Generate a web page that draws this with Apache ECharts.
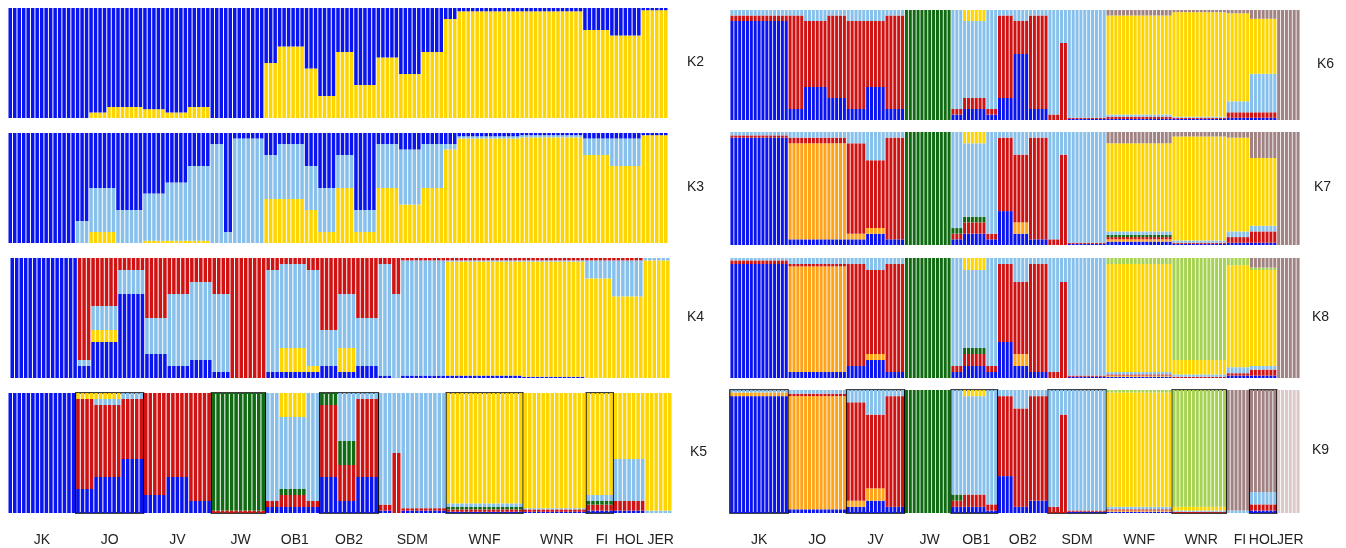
<!DOCTYPE html>
<html><head><meta charset="utf-8">
<script src="https://cdn.jsdelivr.net/npm/echarts@6/dist/echarts.min.js"></script>
<style>html,body{margin:0;padding:0;background:#fff}#c{width:1346px;height:548px}</style>
</head><body><div id="c"></div>
<script>
// populations and individual counts
const pops = ['JK', 'JO', 'JV', 'JW', 'OB1', 'OB2', 'SDM', 'WNF', 'WNR', 'FI', 'HOL', 'JER'];

const C = {
    blue: '#0a14f0', yellow: '#ffd500', lb: '#88c0ec', red: '#d01212', green: '#0f6a12',
    orange: '#ffa41a', brown: '#a08282', lgreen: '#a6d254', pink: '#dcc8c8'
};

// profiles per population: [count, q1, q2, ...]
const K2 = [
    [[15, 1, 0]],
    [[3, 1, 0], [4, 0.95, 0.05], [8, 0.9, 0.1]],
    [[5, 0.92, 0.08], [5, 0.95, 0.05], [5, 0.9, 0.1]],
    [[12, 1, 0]],
    [[3, 0.5, 0.5], [6, 0.35, 0.65], [3, 0.55, 0.45]],
    [[4, 0.8, 0.2], [4, 0.4, 0.6], [5, 0.7, 0.3]],
    [[5, 0.45, 0.55], [5, 0.6, 0.4], [5, 0.4, 0.6]],
    [[3, 0.1, 0.9], [14, 0.03, 0.97]],
    [[14, 0.03, 0.97]],
    [[6, 0.2, 0.8]],
    [[7, 0.25, 0.75]],
    [[6, 0.02, 0.98]]
];
const K3 = [
    [[15, 1, 0, 0]],
    [[3, 0.8, 0.2, 0], [6, 0.5, 0.4, 0.1], [6, 0.7, 0.3, 0]],
    [[5, 0.55, 0.43, 0.02], [5, 0.45, 0.53, 0.02], [5, 0.3, 0.68, 0.02]],
    [[3, 0.1, 0.9, 0], [2, 0.9, 0.1, 0], [7, 0.05, 0.95, 0]],
    [[3, 0.2, 0.4, 0.4], [6, 0.1, 0.5, 0.4], [3, 0.3, 0.4, 0.3]],
    [[4, 0.5, 0.4, 0.1], [4, 0.2, 0.3, 0.5], [5, 0.7, 0.2, 0.1]],
    [[5, 0.1, 0.4, 0.5], [5, 0.15, 0.5, 0.35], [5, 0.1, 0.4, 0.5]],
    [[3, 0.1, 0.05, 0.85], [14, 0.03, 0.02, 0.95]],
    [[14, 0.02, 0.02, 0.96]],
    [[6, 0.05, 0.15, 0.8]],
    [[7, 0.05, 0.25, 0.7]],
    [[6, 0.02, 0, 0.98]]
];
const K4 = [
    [[15, 1, 0, 0, 0]],
    [[3, 0.1, 0.85, 0.05, 0], [6, 0.3, 0.4, 0.2, 0.1], [6, 0.7, 0.1, 0.2, 0]],
    [[5, 0.2, 0.5, 0.3, 0], [5, 0.1, 0.3, 0.6, 0], [5, 0.15, 0.2, 0.65, 0]],
    [[4, 0.05, 0.3, 0.65, 0], [8, 0, 1, 0, 0]],
    [[3, 0.05, 0.1, 0.85, 0], [6, 0.05, 0.05, 0.7, 0.2], [3, 0.05, 0.1, 0.8, 0.05]],
    [[4, 0.1, 0.6, 0.3, 0], [4, 0.05, 0.3, 0.45, 0.2], [5, 0.1, 0.5, 0.4, 0]],
    [[3, 0.02, 0.05, 0.93, 0], [2, 0, 0.3, 0.7, 0], [10, 0.02, 0.02, 0.96, 0]],
    [[17, 0.02, 0.02, 0.01, 0.95]],
    [[14, 0.01, 0.02, 0.01, 0.96]],
    [[6, 0, 0.02, 0.15, 0.83]],
    [[7, 0, 0.02, 0.3, 0.68]],
    [[6, 0, 0, 0.02, 0.98]]
];
const K5 = [
    [[15, 1, 0, 0, 0, 0]],
    [[4, 0.2, 0.75, 0, 0, 0.05], [6, 0.3, 0.6, 0, 0.05, 0.05], [5, 0.45, 0.5, 0, 0.05, 0]],
    [[5, 0.15, 0.85, 0, 0, 0], [5, 0.3, 0.7, 0, 0, 0], [5, 0.1, 0.9, 0, 0, 0]],
    [[12, 0, 0.02, 0.98, 0, 0]],
    [[3, 0.05, 0.05, 0, 0.9, 0], [6, 0.05, 0.1, 0.05, 0.6, 0.2], [3, 0.05, 0.05, 0, 0.9, 0]],
    [[4, 0.3, 0.6, 0.1, 0, 0], [4, 0.1, 0.3, 0.2, 0.4, 0], [5, 0.3, 0.65, 0, 0.05, 0]],
    [[3, 0.02, 0.05, 0, 0.93, 0], [2, 0, 0.5, 0, 0.5, 0], [10, 0.02, 0.02, 0, 0.96, 0]],
    [[17, 0.01, 0.02, 0.02, 0.03, 0.92]],
    [[14, 0.01, 0.02, 0, 0.01, 0.96]],
    [[6, 0.02, 0.05, 0.03, 0.05, 0.85]],
    [[7, 0.02, 0.08, 0, 0.35, 0.55]],
    [[6, 0, 0, 0, 0.02, 0.98]]
];
const K6 = [
    [[15, 0.9, 0.05, 0, 0.05, 0, 0]],
    [[4, 0.1, 0.85, 0, 0.05, 0, 0], [6, 0.3, 0.6, 0, 0.1, 0, 0], [5, 0.2, 0.75, 0, 0.05, 0, 0]],
    [[5, 0.1, 0.8, 0, 0.1, 0, 0], [5, 0.3, 0.6, 0, 0.1, 0, 0], [5, 0.1, 0.85, 0, 0.05, 0, 0]],
    [[12, 0, 0, 1, 0, 0, 0]],
    [[3, 0.05, 0.05, 0, 0.9, 0, 0], [6, 0.1, 0.1, 0, 0.7, 0.1, 0], [3, 0.05, 0.05, 0, 0.9, 0, 0]],
    [[4, 0.2, 0.75, 0, 0.05, 0, 0], [4, 0.6, 0.3, 0, 0.1, 0, 0], [5, 0.1, 0.85, 0, 0.05, 0, 0]],
    [[3, 0, 0.05, 0, 0.95, 0, 0], [2, 0, 0.7, 0, 0.3, 0, 0], [10, 0.01, 0.01, 0, 0.98, 0, 0]],
    [[17, 0.01, 0.02, 0, 0.02, 0.9, 0.05]],
    [[14, 0.01, 0.01, 0, 0.01, 0.95, 0.02]],
    [[6, 0.02, 0.05, 0, 0.1, 0.8, 0.03]],
    [[7, 0.02, 0.05, 0, 0.35, 0.5, 0.08]],
    [[6, 0, 0, 0, 0, 0, 1]]
];
const K7 = [
    [[15, 0.95, 0, 0.02, 0, 0.03, 0, 0]],
    [[15, 0.05, 0.85, 0.05, 0, 0.05, 0, 0]],
    [[5, 0.05, 0.05, 0.8, 0, 0.1, 0, 0], [5, 0.1, 0.05, 0.6, 0, 0.25, 0, 0], [5, 0.05, 0, 0.9, 0, 0.05, 0, 0]],
    [[12, 0, 0, 0, 1, 0, 0, 0]],
    [[3, 0.05, 0, 0.05, 0.05, 0.85, 0, 0], [6, 0.1, 0, 0.1, 0.05, 0.65, 0.1, 0], [3, 0.05, 0, 0.05, 0, 0.9, 0, 0]],
    [[4, 0.3, 0, 0.65, 0, 0.05, 0, 0], [4, 0.1, 0.1, 0.6, 0, 0.2, 0, 0], [5, 0.05, 0, 0.9, 0, 0.05, 0, 0]],
    [[3, 0, 0, 0.05, 0, 0.95, 0, 0], [2, 0, 0, 0.8, 0, 0.2, 0, 0], [10, 0.01, 0, 0.01, 0, 0.98, 0, 0]],
    [[17, 0.03, 0.02, 0.02, 0.02, 0.03, 0.78, 0.1]],
    [[14, 0.01, 0, 0.01, 0, 0.02, 0.92, 0.04]],
    [[6, 0.02, 0, 0.05, 0, 0.05, 0.83, 0.05]],
    [[7, 0.02, 0, 0.1, 0, 0.05, 0.6, 0.23]],
    [[6, 0, 0, 0, 0, 0, 0, 1]]
];
const K8 = [
    [[15, 0.95, 0, 0.03, 0, 0.02, 0, 0, 0]],
    [[15, 0.05, 0.88, 0.02, 0, 0.05, 0, 0, 0]],
    [[5, 0.1, 0, 0.85, 0, 0.05, 0, 0, 0], [5, 0.15, 0.05, 0.7, 0, 0.1, 0, 0, 0], [5, 0.05, 0, 0.9, 0, 0.05, 0, 0, 0]],
    [[12, 0, 0, 0, 1, 0, 0, 0, 0]],
    [[3, 0.05, 0, 0.05, 0, 0.9, 0, 0, 0], [6, 0.1, 0, 0.1, 0.05, 0.65, 0.1, 0, 0], [3, 0.05, 0, 0.05, 0, 0.9, 0, 0, 0]],
    [[4, 0.3, 0, 0.65, 0, 0.05, 0, 0, 0], [4, 0.1, 0.1, 0.6, 0, 0.2, 0, 0, 0], [5, 0.05, 0, 0.9, 0, 0.05, 0, 0, 0]],
    [[3, 0, 0, 0.05, 0, 0.95, 0, 0, 0], [2, 0, 0, 0.8, 0, 0.2, 0, 0, 0], [10, 0.01, 0, 0.01, 0, 0.98, 0, 0, 0]],
    [[17, 0.01, 0.01, 0.01, 0, 0.02, 0.9, 0.05, 0]],
    [[14, 0, 0, 0.01, 0, 0.02, 0.12, 0.85, 0]],
    [[6, 0.02, 0, 0.02, 0, 0.05, 0.85, 0.06, 0]],
    [[7, 0.02, 0, 0.05, 0, 0.03, 0.8, 0.02, 0.08]],
    [[6, 0, 0, 0, 0, 0, 0, 0, 1]]
];
const K9 = [
    [[15, 0.95, 0.03, 0, 0, 0.02, 0, 0, 0, 0]],
    [[15, 0.03, 0.92, 0.02, 0, 0.03, 0, 0, 0, 0]],
    [[5, 0.05, 0.05, 0.8, 0, 0.1, 0, 0, 0, 0], [5, 0.1, 0.1, 0.6, 0, 0.2, 0, 0, 0, 0], [5, 0.05, 0, 0.9, 0, 0.05, 0, 0, 0, 0]],
    [[12, 0, 0, 0, 1, 0, 0, 0, 0, 0]],
    [[3, 0.05, 0, 0.05, 0.05, 0.85, 0, 0, 0, 0], [6, 0.05, 0, 0.1, 0, 0.8, 0.05, 0, 0, 0], [3, 0.02, 0, 0.05, 0, 0.93, 0, 0, 0, 0]],
    [[4, 0.3, 0, 0.65, 0, 0.05, 0, 0, 0, 0], [4, 0.05, 0, 0.8, 0, 0.15, 0, 0, 0, 0], [5, 0.1, 0, 0.85, 0, 0.05, 0, 0, 0, 0]],
    [[3, 0, 0, 0.05, 0, 0.95, 0, 0, 0, 0], [2, 0, 0, 0.8, 0, 0.2, 0, 0, 0, 0], [10, 0.01, 0, 0.01, 0, 0.98, 0, 0, 0, 0]],
    [[17, 0.01, 0.01, 0.01, 0, 0.02, 0.93, 0.02, 0, 0]],
    [[14, 0, 0, 0.01, 0, 0.01, 0.03, 0.95, 0, 0]],
    [[6, 0, 0, 0, 0, 0.02, 0, 0, 0.98, 0]],
    [[7, 0.02, 0, 0.05, 0, 0.1, 0, 0, 0.83, 0]],
    [[6, 0, 0, 0, 0, 0, 0, 0, 0, 1]]
];

// order: column indices from bottom to top of each bar (default: as listed)
const panels = [
    { name: 'K2', data: K2, cols: ['blue', 'yellow'], order: [1, 0], left: 8, top: 8, width: 660, height: 110, lx: 697 },
    { name: 'K3', data: K3, cols: ['blue', 'lb', 'yellow'], order: [2, 1, 0], left: 8, top: 133, width: 660, height: 110, lx: 697 },
    { name: 'K4', data: K4, cols: ['blue', 'red', 'lb', 'yellow'], order: [0, 3, 2, 1], left: 10, top: 258, width: 660, height: 120, lx: 697 },
    { name: 'K5', data: K5, cols: ['blue', 'red', 'green', 'lb', 'yellow'], left: 8, top: 393, width: 664, height: 120, lx: 700, boxes: [1, 3, 5, 7, 9], labels: true },
    { name: 'K6', data: K6, cols: ['blue', 'red', 'green', 'lb', 'yellow', 'brown'], left: 730, top: 10, width: 570, height: 110, lx: 1327 },
    { name: 'K7', data: K7, cols: ['blue', 'orange', 'red', 'green', 'lb', 'yellow', 'brown'], left: 730, top: 132, width: 570, height: 113, lx: 1324 },
    { name: 'K8', data: K8, cols: ['blue', 'orange', 'red', 'green', 'lb', 'yellow', 'lgreen', 'brown'], left: 730, top: 258, width: 570, height: 120, lx: 1322 },
    { name: 'K9', data: K9, cols: ['blue', 'orange', 'red', 'green', 'lb', 'yellow', 'lgreen', 'brown', 'pink'], left: 730, top: 390, width: 570, height: 123, lx: 1322, boxes: [0, 2, 4, 6, 8, 10], labels: true }
];

const chart = echarts.init(document.getElementById('c'));
const grid = [], xAxis = [], yAxis = [], series = [], graphic = [];

panels.forEach((p, gi) => {
    const rows = [], popStart = [], popEnd = [];
    p.data.forEach(prof => {
        popStart.push(rows.length);
        prof.forEach(pr => { for (let i = 0; i < pr[0]; i++) rows.push(pr.slice(1)); });
        popEnd.push(rows.length - 1);
    });
    const cats = rows.map((r, i) => String(i));
    const centers = {};
    popStart.forEach((s, i) => { centers[Math.round((s + popEnd[i]) / 2)] = pops[i]; });

    grid.push({ left: p.left, top: p.top, width: p.width, height: p.height });
    xAxis.push({
        type: 'category', gridIndex: gi, data: cats, boundaryGap: true,
        axisLine: { show: false }, axisTick: { show: false },
        axisLabel: {
            show: !!p.labels, interval: 0, margin: 20, fontSize: 14, color: '#222',
            fontFamily: 'Liberation Sans, Arial',
            formatter: v => centers[+v] || ''
        }
    });
    yAxis.push({ type: 'value', gridIndex: gi, min: 0, max: 1, show: false });

    const order = p.order || p.cols.map((c, i) => i);
    order.forEach((ci, k) => {
        const s = {
            type: 'bar', xAxisIndex: gi, yAxisIndex: gi, stack: 'q' + gi,
            barCategoryGap: '22%', itemStyle: { color: C[p.cols[ci]] },
            data: rows.map(r => r[ci]), silent: true, animation: false
        };
        if (k === 0 && p.boxes) {
            s.markArea = {
                silent: true,
                itemStyle: { color: 'rgba(0,0,0,0)', borderColor: '#000', borderWidth: 1.5 },
                data: p.boxes.map(b => [{ xAxis: String(popStart[b]), yAxis: 0 }, { xAxis: String(popEnd[b]), yAxis: 1 }])
            };
        }
        series.push(s);
    });

    graphic.push({
        type: 'text', left: p.lx - 10, top: p.top + p.height / 2 - 8,
        style: { text: p.name, fontSize: 14, fill: '#222', fontFamily: 'Liberation Sans, Arial' }
    });
});

chart.setOption({ backgroundColor: '#fff', animation: false, grid, xAxis, yAxis, series, graphic });
</script></body></html>
